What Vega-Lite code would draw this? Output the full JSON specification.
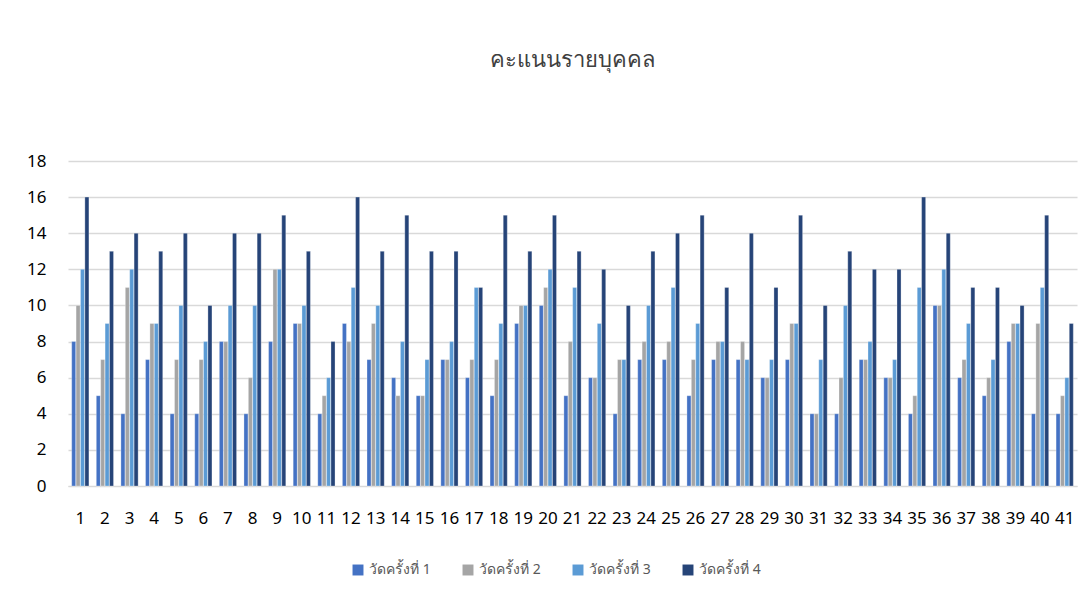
{
  "$schema": "https://vega.github.io/schema/vega-lite/v6.json",
  "autosize": {"type": "none"},
  "padding": {"left": 68, "top": 161, "right": 12, "bottom": 116},
  "width": 1009,
  "height": 325,
  "background": "white",
  "title": {"text": "คะแนนรายบุคคล", "fontSize": 22, "font": "Noto Sans", "fontWeight": "normal", "color": "#404040", "anchor": "middle", "offset": 80},
  "data": {"values": [
    {"p":1,"s":"วัดครั้งที่ 1","v":8},{"p":1,"s":"วัดครั้งที่ 2","v":10},{"p":1,"s":"วัดครั้งที่ 3","v":12},{"p":1,"s":"วัดครั้งที่ 4","v":16},
    {"p":2,"s":"วัดครั้งที่ 1","v":5},{"p":2,"s":"วัดครั้งที่ 2","v":7},{"p":2,"s":"วัดครั้งที่ 3","v":9},{"p":2,"s":"วัดครั้งที่ 4","v":13},
    {"p":3,"s":"วัดครั้งที่ 1","v":4},{"p":3,"s":"วัดครั้งที่ 2","v":11},{"p":3,"s":"วัดครั้งที่ 3","v":12},{"p":3,"s":"วัดครั้งที่ 4","v":14},
    {"p":4,"s":"วัดครั้งที่ 1","v":7},{"p":4,"s":"วัดครั้งที่ 2","v":9},{"p":4,"s":"วัดครั้งที่ 3","v":9},{"p":4,"s":"วัดครั้งที่ 4","v":13},
    {"p":5,"s":"วัดครั้งที่ 1","v":4},{"p":5,"s":"วัดครั้งที่ 2","v":7},{"p":5,"s":"วัดครั้งที่ 3","v":10},{"p":5,"s":"วัดครั้งที่ 4","v":14},
    {"p":6,"s":"วัดครั้งที่ 1","v":4},{"p":6,"s":"วัดครั้งที่ 2","v":7},{"p":6,"s":"วัดครั้งที่ 3","v":8},{"p":6,"s":"วัดครั้งที่ 4","v":10},
    {"p":7,"s":"วัดครั้งที่ 1","v":8},{"p":7,"s":"วัดครั้งที่ 2","v":8},{"p":7,"s":"วัดครั้งที่ 3","v":10},{"p":7,"s":"วัดครั้งที่ 4","v":14},
    {"p":8,"s":"วัดครั้งที่ 1","v":4},{"p":8,"s":"วัดครั้งที่ 2","v":6},{"p":8,"s":"วัดครั้งที่ 3","v":10},{"p":8,"s":"วัดครั้งที่ 4","v":14},
    {"p":9,"s":"วัดครั้งที่ 1","v":8},{"p":9,"s":"วัดครั้งที่ 2","v":12},{"p":9,"s":"วัดครั้งที่ 3","v":12},{"p":9,"s":"วัดครั้งที่ 4","v":15},
    {"p":10,"s":"วัดครั้งที่ 1","v":9},{"p":10,"s":"วัดครั้งที่ 2","v":9},{"p":10,"s":"วัดครั้งที่ 3","v":10},{"p":10,"s":"วัดครั้งที่ 4","v":13},
    {"p":11,"s":"วัดครั้งที่ 1","v":4},{"p":11,"s":"วัดครั้งที่ 2","v":5},{"p":11,"s":"วัดครั้งที่ 3","v":6},{"p":11,"s":"วัดครั้งที่ 4","v":8},
    {"p":12,"s":"วัดครั้งที่ 1","v":9},{"p":12,"s":"วัดครั้งที่ 2","v":8},{"p":12,"s":"วัดครั้งที่ 3","v":11},{"p":12,"s":"วัดครั้งที่ 4","v":16},
    {"p":13,"s":"วัดครั้งที่ 1","v":7},{"p":13,"s":"วัดครั้งที่ 2","v":9},{"p":13,"s":"วัดครั้งที่ 3","v":10},{"p":13,"s":"วัดครั้งที่ 4","v":13},
    {"p":14,"s":"วัดครั้งที่ 1","v":6},{"p":14,"s":"วัดครั้งที่ 2","v":5},{"p":14,"s":"วัดครั้งที่ 3","v":8},{"p":14,"s":"วัดครั้งที่ 4","v":15},
    {"p":15,"s":"วัดครั้งที่ 1","v":5},{"p":15,"s":"วัดครั้งที่ 2","v":5},{"p":15,"s":"วัดครั้งที่ 3","v":7},{"p":15,"s":"วัดครั้งที่ 4","v":13},
    {"p":16,"s":"วัดครั้งที่ 1","v":7},{"p":16,"s":"วัดครั้งที่ 2","v":7},{"p":16,"s":"วัดครั้งที่ 3","v":8},{"p":16,"s":"วัดครั้งที่ 4","v":13},
    {"p":17,"s":"วัดครั้งที่ 1","v":6},{"p":17,"s":"วัดครั้งที่ 2","v":7},{"p":17,"s":"วัดครั้งที่ 3","v":11},{"p":17,"s":"วัดครั้งที่ 4","v":11},
    {"p":18,"s":"วัดครั้งที่ 1","v":5},{"p":18,"s":"วัดครั้งที่ 2","v":7},{"p":18,"s":"วัดครั้งที่ 3","v":9},{"p":18,"s":"วัดครั้งที่ 4","v":15},
    {"p":19,"s":"วัดครั้งที่ 1","v":9},{"p":19,"s":"วัดครั้งที่ 2","v":10},{"p":19,"s":"วัดครั้งที่ 3","v":10},{"p":19,"s":"วัดครั้งที่ 4","v":13},
    {"p":20,"s":"วัดครั้งที่ 1","v":10},{"p":20,"s":"วัดครั้งที่ 2","v":11},{"p":20,"s":"วัดครั้งที่ 3","v":12},{"p":20,"s":"วัดครั้งที่ 4","v":15},
    {"p":21,"s":"วัดครั้งที่ 1","v":5},{"p":21,"s":"วัดครั้งที่ 2","v":8},{"p":21,"s":"วัดครั้งที่ 3","v":11},{"p":21,"s":"วัดครั้งที่ 4","v":13},
    {"p":22,"s":"วัดครั้งที่ 1","v":6},{"p":22,"s":"วัดครั้งที่ 2","v":6},{"p":22,"s":"วัดครั้งที่ 3","v":9},{"p":22,"s":"วัดครั้งที่ 4","v":12},
    {"p":23,"s":"วัดครั้งที่ 1","v":4},{"p":23,"s":"วัดครั้งที่ 2","v":7},{"p":23,"s":"วัดครั้งที่ 3","v":7},{"p":23,"s":"วัดครั้งที่ 4","v":10},
    {"p":24,"s":"วัดครั้งที่ 1","v":7},{"p":24,"s":"วัดครั้งที่ 2","v":8},{"p":24,"s":"วัดครั้งที่ 3","v":10},{"p":24,"s":"วัดครั้งที่ 4","v":13},
    {"p":25,"s":"วัดครั้งที่ 1","v":7},{"p":25,"s":"วัดครั้งที่ 2","v":8},{"p":25,"s":"วัดครั้งที่ 3","v":11},{"p":25,"s":"วัดครั้งที่ 4","v":14},
    {"p":26,"s":"วัดครั้งที่ 1","v":5},{"p":26,"s":"วัดครั้งที่ 2","v":7},{"p":26,"s":"วัดครั้งที่ 3","v":9},{"p":26,"s":"วัดครั้งที่ 4","v":15},
    {"p":27,"s":"วัดครั้งที่ 1","v":7},{"p":27,"s":"วัดครั้งที่ 2","v":8},{"p":27,"s":"วัดครั้งที่ 3","v":8},{"p":27,"s":"วัดครั้งที่ 4","v":11},
    {"p":28,"s":"วัดครั้งที่ 1","v":7},{"p":28,"s":"วัดครั้งที่ 2","v":8},{"p":28,"s":"วัดครั้งที่ 3","v":7},{"p":28,"s":"วัดครั้งที่ 4","v":14},
    {"p":29,"s":"วัดครั้งที่ 1","v":6},{"p":29,"s":"วัดครั้งที่ 2","v":6},{"p":29,"s":"วัดครั้งที่ 3","v":7},{"p":29,"s":"วัดครั้งที่ 4","v":11},
    {"p":30,"s":"วัดครั้งที่ 1","v":7},{"p":30,"s":"วัดครั้งที่ 2","v":9},{"p":30,"s":"วัดครั้งที่ 3","v":9},{"p":30,"s":"วัดครั้งที่ 4","v":15},
    {"p":31,"s":"วัดครั้งที่ 1","v":4},{"p":31,"s":"วัดครั้งที่ 2","v":4},{"p":31,"s":"วัดครั้งที่ 3","v":7},{"p":31,"s":"วัดครั้งที่ 4","v":10},
    {"p":32,"s":"วัดครั้งที่ 1","v":4},{"p":32,"s":"วัดครั้งที่ 2","v":6},{"p":32,"s":"วัดครั้งที่ 3","v":10},{"p":32,"s":"วัดครั้งที่ 4","v":13},
    {"p":33,"s":"วัดครั้งที่ 1","v":7},{"p":33,"s":"วัดครั้งที่ 2","v":7},{"p":33,"s":"วัดครั้งที่ 3","v":8},{"p":33,"s":"วัดครั้งที่ 4","v":12},
    {"p":34,"s":"วัดครั้งที่ 1","v":6},{"p":34,"s":"วัดครั้งที่ 2","v":6},{"p":34,"s":"วัดครั้งที่ 3","v":7},{"p":34,"s":"วัดครั้งที่ 4","v":12},
    {"p":35,"s":"วัดครั้งที่ 1","v":4},{"p":35,"s":"วัดครั้งที่ 2","v":5},{"p":35,"s":"วัดครั้งที่ 3","v":11},{"p":35,"s":"วัดครั้งที่ 4","v":16},
    {"p":36,"s":"วัดครั้งที่ 1","v":10},{"p":36,"s":"วัดครั้งที่ 2","v":10},{"p":36,"s":"วัดครั้งที่ 3","v":12},{"p":36,"s":"วัดครั้งที่ 4","v":14},
    {"p":37,"s":"วัดครั้งที่ 1","v":6},{"p":37,"s":"วัดครั้งที่ 2","v":7},{"p":37,"s":"วัดครั้งที่ 3","v":9},{"p":37,"s":"วัดครั้งที่ 4","v":11},
    {"p":38,"s":"วัดครั้งที่ 1","v":5},{"p":38,"s":"วัดครั้งที่ 2","v":6},{"p":38,"s":"วัดครั้งที่ 3","v":7},{"p":38,"s":"วัดครั้งที่ 4","v":11},
    {"p":39,"s":"วัดครั้งที่ 1","v":8},{"p":39,"s":"วัดครั้งที่ 2","v":9},{"p":39,"s":"วัดครั้งที่ 3","v":9},{"p":39,"s":"วัดครั้งที่ 4","v":10},
    {"p":40,"s":"วัดครั้งที่ 1","v":4},{"p":40,"s":"วัดครั้งที่ 2","v":9},{"p":40,"s":"วัดครั้งที่ 3","v":11},{"p":40,"s":"วัดครั้งที่ 4","v":15},
    {"p":41,"s":"วัดครั้งที่ 1","v":4},{"p":41,"s":"วัดครั้งที่ 2","v":5},{"p":41,"s":"วัดครั้งที่ 3","v":6},{"p":41,"s":"วัดครั้งที่ 4","v":9}
  ]},
  "mark": {"type": "bar", "stroke": "white", "strokeWidth": 0.3},
  "encoding": {
    "x": {"field": "p", "type": "ordinal", "title": null, "sort": null,
      "scale": {"paddingInner": 0.3, "paddingOuter": 0.15},
      "axis": {"labelAngle": 0, "labelOverlap": false, "labelFontSize": 17, "labelFont": "Noto Sans", "labelColor": "#000000", "labelPadding": 24, "ticks": false, "domainColor": "#d9d9d9", "grid": false}},
    "xOffset": {"field": "s", "type": "nominal", "sort": null, "scale": {"paddingInner": 0.08}},
    "y": {"field": "v", "type": "quantitative", "title": null,
      "scale": {"domain": [0, 18], "nice": false},
      "axis": {"values": [0,2,4,6,8,10,12,14,16,18], "labelFontSize": 17, "labelFont": "Noto Sans", "labelColor": "#000000", "labelPadding": 22, "ticks": false, "domain": false, "gridColor": "#d9d9d9", "gridWidth": 1.5}},
    "color": {"field": "s", "type": "nominal", "sort": null,
      "scale": {"range": ["#4472C4", "#A5A5A5", "#5B9BD5", "#264478"]},
      "legend": {"orient": "none", "legendX": 283, "legendY": 402, "direction": "horizontal", "title": null, "symbolType": "square", "symbolSize": 120, "symbolStrokeWidth": 0, "labelFontSize": 14, "labelColor": "#595959", "labelFont": "Noto Sans", "columnPadding": 30}}
  },
  "config": {"view": {"stroke": null}}
}
